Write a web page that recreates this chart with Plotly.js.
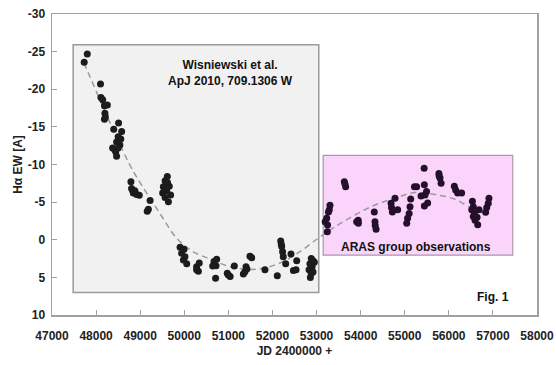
<!DOCTYPE html>
<html>
<head>
<meta charset="utf-8">
<script src="https://cdn.plot.ly/plotly-3.0.1.min.js"></script>
<style>html,body{margin:0;padding:0;background:#fff;}#chart{width:556px;height:365px;}</style>
</head>
<body>
<div id="chart"></div>
<script>
// Wisniewski et al. observations (JD - 2400000, H-alpha EW in A)
const wisJD = [47730,47800,48100,48110,48150,48190,48255,48200,48190,48210,48400,48510,48580,48560,48500,48465,48540,48375,48445,48465,48420,48500,
  48790,48805,48845,48880,48920,48980,48830,49225,49185,49160,49615,49565,49660,49525,49600,49690,49510,49640,49565,49620,
  49905,49995,49940,50015,49980,50055,50280,50340,50320,50280,50675,50720,50645,50735,50710,50975,51040,51000,51135,51375,51400,51340,51420,51490,51530,51830,52110,52187,52200,52210,52230,52245,52300,52420,52550,52475,52535,52880,52920,52850,52900,52830,52880,52860,52950,52920];
const wisEW = [-23.6,-24.7,-20.7,-18.9,-18.6,-17.8,-17.9,-16.8,-16.0,-16.3,-14.7,-15.5,-14.4,-13.4,-13.7,-13.0,-12.6,-12.2,-11.7,-11.1,-12.0,-12.2,
  -7.7,-6.8,-6.2,-6.5,-6.0,-5.9,-6.5,-5.2,-4.05,-3.8,-8.4,-7.85,-7.1,-7.05,-6.5,-5.95,-6.2,-5.05,-5.6,-7.6,
  1.0,1.27,1.8,2.25,2.7,3.2,3.6,3.1,4.2,4.0,2.9,3.45,3.5,2.6,5.1,4.45,4.9,4.7,3.5,4.25,3.6,4.55,3.9,2.2,2.4,4.0,4.8,0.17,0.6,0.9,1.6,2.25,3.2,1.9,2.8,4.1,4.0,2.5,2.8,3.2,3.6,4.0,4.5,5.0,3.0,4.3];
// ARAS group observations
const arasJD = [53305,53270,53230,53195,53250,53245,53290,53630,53660,53645,53945,53910,53950,54310,54325,54350,54330,54690,54720,54780,54840,54700,
  55045,55065,55120,55135,55100,55220,55370,55440,55270,55445,55495,55460,55520,55445,55775,55800,55825,55780,56125,56155,56200,56290,
  56535,56555,56520,56580,56555,56595,56640,56655,56685,56910,56895,56860,56835];
const arasEW = [-4.6,-3.7,-2.85,-2.4,-1.96,-1.07,-4.0,-7.7,-7.05,-7.4,-2.6,-2.4,-2.2,-3.7,-2.4,-1.4,-1.9,-4.85,-3.7,-5.5,-4.0,-4.3,
  -2.2,-2.85,-4.4,-5.4,-3.5,-7.05,-5.8,-9.5,-7.05,-7.3,-6.4,-5.95,-4.9,-4.5,-8.8,-8.2,-7.5,-8.5,-7.1,-6.6,-6.2,-6.2,
  -5.1,-4.4,-4.0,-3.5,-3.1,-2.6,-3.0,-2.0,-4.0,-5.5,-4.85,-4.3,-3.65];
// dashed trend curve
const fitJD = [47726,48769,49148,49447,49828,50205,50584,51037,51491,51786,52172,52579,53033,53419,53872,54326,54780,55233,55687,56140,56519,56821];
const fitEW = [-23.5,-9.9,-6.2,-3.5,-0.2,1.6,2.56,3.58,3.95,3.79,3.09,1.76,-0.17,-1.73,-3.29,-4.62,-5.51,-6.28,-6.01,-5.38,-4.18,-3.59];
const xTicks = [47000,48000,49000,50000,51000,52000,53000,54000,55000,56000,57000,58000];
const yTicks = [-30,-25,-20,-15,-10,-5,0,5,10];

const font = {family: 'Liberation Sans, Arial, sans-serif', size: 12, color: '#222'};
const traces = [
  {x: fitJD, y: fitEW, mode: 'lines', line: {color: '#9a9a9a', width: 1.5, dash: '6px,4px', shape: 'spline'}, hoverinfo: 'skip'},
  {x: wisJD, y: wisEW, mode: 'markers', marker: {color: '#1c1c1c', size: 7}},
  {x: arasJD, y: arasEW, mode: 'markers', marker: {color: '#24102a', size: 7}}
];
const layout = {
  width: 556, height: 365,
  margin: {l: 52, r: 19, t: 14, b: 50},
  paper_bgcolor: '#fff', plot_bgcolor: '#fff',
  showlegend: false,
  font: font,
  xaxis: {
    range: [47000, 58000], tickvals: xTicks, ticktext: xTicks.map(String),
    showgrid: false, zeroline: false, showline: true, mirror: true, linecolor: '#a0a0a0', linewidth: 1.5,
    ticks: 'inside', ticklen: 5, tickcolor: '#a0a0a0', ticklabelstandoff: 9,
    tickfont: {family: font.family, size: 12, color: '#222', weight: 'bold'},
    title: {text: '<b>JD 2400000 +</b>', font: {family: font.family, size: 12, color: '#222'}, standoff: 4}
  },
  yaxis: {
    range: [10, -30], tickvals: yTicks, ticktext: yTicks.map(String),
    showgrid: false, zeroline: false, showline: true, mirror: true, linecolor: '#a0a0a0', linewidth: 1.5,
    ticks: 'inside', ticklen: 5, tickcolor: '#a0a0a0', ticklabelstandoff: 3,
    tickfont: {family: font.family, size: 12, color: '#222', weight: 'bold'},
    title: {text: '<b>Hα EW [A]</b>', font: {family: font.family, size: 12, color: '#222'}, standoff: 2}
  },
  shapes: [
    {type: 'rect', xref: 'x', yref: 'y', x0: 47480, x1: 53050, y0: -25.9, y1: 7.0, layer: 'below',
     fillcolor: '#f1f1f1', line: {color: '#9a9a9a', width: 1.5}},
    {type: 'rect', xref: 'x', yref: 'y', x0: 53150, x1: 57450, y0: -11.2, y1: 2.05, layer: 'below',
     fillcolor: '#fad4fa', line: {color: '#a89aa8', width: 1.2}}
  ],
  annotations: [
    {xref: 'x', yref: 'y', x: 51050, y: -22.1, text: '<b>Wisniewski et al.<br>ApJ 2010, 709.1306 W</b>', showarrow: false,
     align: 'center', font: {family: font.family, size: 12, color: '#111'}},
    {xref: 'x', yref: 'y', x: 55250, y: 0.9, text: '<b>ARAS group observations</b>', showarrow: false,
     font: {family: font.family, size: 12, color: '#111'}},
    {xref: 'x', yref: 'y', x: 57000, y: 7.6, text: '<b>Fig. 1</b>', showarrow: false,
     font: {family: font.family, size: 12, color: '#111'}}
  ]
};
Plotly.newPlot('chart', traces, layout, {displayModeBar: false, staticPlot: true});
</script>
</body>
</html>
